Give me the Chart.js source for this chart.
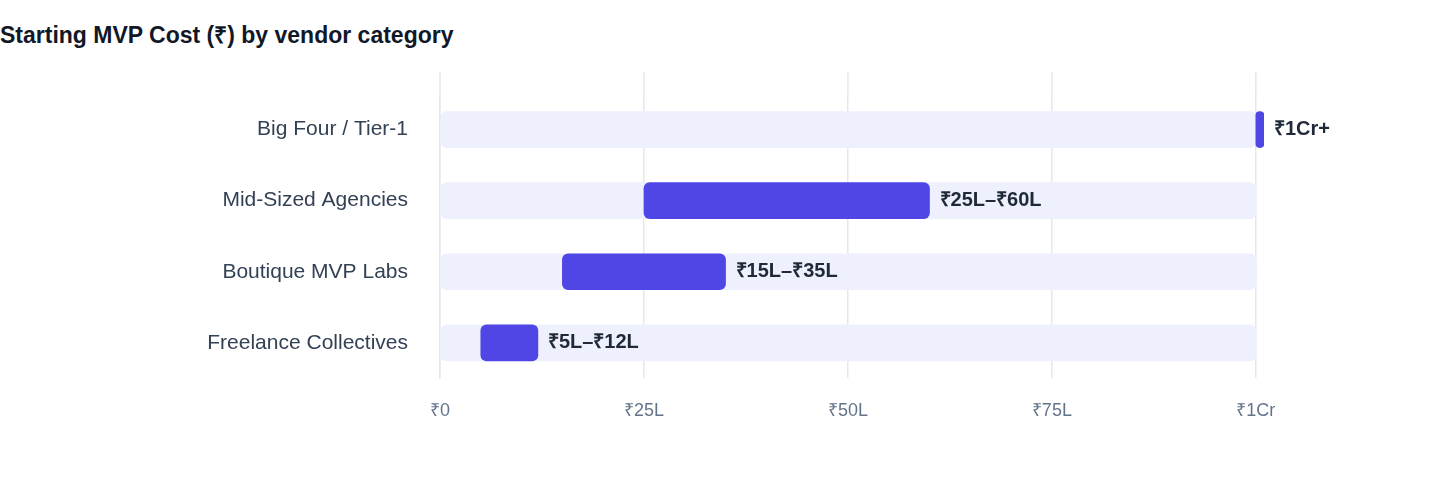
<!DOCTYPE html>
<html>
<head>
<meta charset="utf-8">
<script src="https://cdn.jsdelivr.net/npm/chart.js@4"></script>
<style>
  body { margin: 0; background: #fff; font-family: "Liberation Sans", Arial, sans-serif; }
  #title { position: absolute; left: 0; top: 18px; font-size: 23px; font-weight: 700; color: #111827; }
  #wrap { position: absolute; left: 0; top: 0; width: 1440px; height: 484px; }
</style>
</head>
<body>
<div id="title">Starting MVP Cost (₹) by vendor category</div>
<div id="wrap"><canvas id="plot"></canvas></div>
<script>
const categories = ['Big Four / Tier-1', 'Mid-Sized Agencies', 'Boutique MVP Labs', 'Freelance Collectives'];
const rangeStart = [100, 25, 15, 5];
const rangeEnd = [101, 60, 35, 12];
const rangeLabels = ['₹1Cr+', '₹25L–₹60L', '₹15L–₹35L', '₹5L–₹12L'];
const trackMax = 100;
const tickLabels = { 0: '₹0', 25: '₹25L', 50: '₹50L', 75: '₹75L', 100: '₹1Cr' };

const endLabels = {
    id: 'endLabels',
    afterDatasetsDraw(chart) {
        const ctx = chart.ctx;
        const meta = chart.getDatasetMeta(1);
        ctx.save();
        ctx.font = 'bold 20px "Liberation Sans", Arial, sans-serif';
        ctx.fillStyle = '#1f2937';
        ctx.textBaseline = 'middle';
        meta.data.forEach(function(bar, i) {
            ctx.fillText(rangeLabels[i], bar.x + 10, bar.y);
        });
        ctx.restore();
    }
};

// grid lines in the reference reach a bit above the first track
const tallGrid = {
    id: 'tallGrid',
    beforeDatasetsDraw(chart) {
        const ctx = chart.ctx, x = chart.scales.x, area = chart.chartArea;
        ctx.save();
        ctx.strokeStyle = '#e5e7eb';
        ctx.lineWidth = 1.5;
        [0, 25, 50, 75, 100].forEach(function(v) {
            const px = x.getPixelForValue(v);
            ctx.beginPath();
            ctx.moveTo(px, area.top - 22);
            ctx.lineTo(px, area.top);
            ctx.stroke();
        });
        ctx.restore();
    }
};

const ctx = document.getElementById('plot').getContext('2d');
window.myChart = new Chart(ctx, {
    type: 'bar',
    data: {
        labels: categories,
        datasets: [{
            data: categories.map(() => [0, trackMax]),
            backgroundColor: '#eef1fd',
            borderRadius: 6,
            borderSkipped: false,
            barThickness: 36,
            grouped: false,
            order: 2
        }, {
            data: rangeStart.map((s, i) => [s, rangeEnd[i]]),
            backgroundColor: '#4f46e5',
            borderRadius: 6,
            borderSkipped: false,
            barThickness: 36,
            grouped: false,
            order: 1
        }]
    },
    options: {
        indexAxis: 'y',
        responsive: true,
        maintainAspectRatio: false,
        animation: false,
        layout: { padding: { top: 94, right: 176, bottom: 40, left: 0 } },
        plugins: { legend: { display: false }, tooltip: { enabled: false } },
        scales: {
            x: {
                min: 0,
                max: 101,
                afterBuildTicks(scale) { scale.ticks = [0, 25, 50, 75, 100].map(v => ({ value: v })); },
                ticks: {
                    callback: v => tickLabels[v],
                    color: '#64748b',
                    font: { size: 18, family: '"Liberation Sans", Arial, sans-serif' },
                    padding: 22
                },
                grid: { color: '#e5e7eb', lineWidth: 1.5, drawTicks: false },
                border: { display: false }
            },
            y: {
                afterFit(scale) { scale.width = 440; },
                ticks: { color: '#334155', font: { size: 21, family: '"Liberation Sans", Arial, sans-serif' }, padding: 24 },
                grid: { display: false },
                border: { color: '#e5e7eb', width: 1.5 }
            }
        }
    },
    plugins: [tallGrid, endLabels]
});
</script>
</body>
</html>
